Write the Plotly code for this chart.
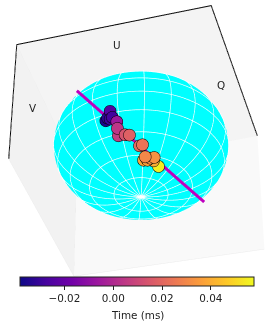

import numpy as np
import plotly.graph_objects as go

time_ms = [0.055, -0.036, -0.033, -0.03, -0.028, -0.025, -0.006, 0.006, 0.004, 0.014, 0.018, 0.021, 0.024, 0.038, 0.036, 0.04, 0.03, 0.032, 0.033]
q = [0.443, 0.986, 1.006, 1.002, 1.014, 1.052, 0.989, 0.885, 0.947, 0.888, 0.879, 0.761, 0.764, 0.608, 0.597, 0.569, 0.646, 0.617, 0.611]
u = [0.332, -0.142, -0.115, -0.086, -0.056, -0.072, -0.01, -0.021, -0.015, 0.06, 0.109, 0.195, 0.232, 0.2, 0.244, 0.308, 0.231, 0.282, 0.328]
v = [-0.951, -0.475, -0.45, -0.474, -0.462, -0.378, -0.535, -0.7, -0.62, -0.706, -0.718, -0.832, -0.825, -0.958, -0.959, -0.963, -0.94, -0.951, -0.945]
line_q = [0.815, 0.879, 0.957, 0.997, 0.989, 0.934, 0.831, 0.688, 0.509, 0.305, 0.086, -0.138, -0.355, -0.554, -0.707]
line_u = [-0.534, -0.497, -0.418, -0.317, -0.199, -0.071, 0.061, 0.189, 0.307, 0.41, 0.491, 0.548, 0.577, 0.577, 0.552]
line_v = [0.391, 0.289, 0.107, -0.092, -0.29, -0.475, -0.639, -0.771, -0.865, -0.917, -0.924, -0.885, -0.802, -0.68, -0.545]
tick_vals = [-0.02, 0.0, 0.02, 0.04]
tick_text = ["\u22120.02", "0.00", "0.02", "0.04"]

# box corners
A = (1.142, -1.158, 1.138)
B = (1.161, 1.165, 1.213)
C = (-1.145, 1.062, 1.042)
F = (-1.167, -1.095, 1.039)
E = (1.168, -1.246, -1.09)
G_D = (-1.109, -1.114, -1.105)
G = (-1.159, 1.141, -1.174)

RANGE = 1.4
SCALE = 1.208 * RANGE / 1.115
CMIN, CMAX = -0.0382, 0.0577
FONT = "DejaVu Sans"
INK = "#222222"
n = np.array([0.21377, -0.75485, -0.62009])
DIST = 2.0
center = np.array([-0.04503, -0.06147, -0.07600])
eye = center + np.array([-n[1], n[0], n[2]]) * DIST

th = np.linspace(0, np.pi, 60)
ph = np.linspace(0, 2 * np.pi, 120)
sx = np.outer(np.sin(th), np.cos(ph))
sy = np.outer(np.sin(th), np.sin(ph))
sz = np.outer(np.cos(th), np.ones_like(ph))

gx, gy, gz = [], [], []
RG = 1.004
for lat in np.radians(np.arange(18, 180, 18)):
    a = np.linspace(0, 2 * np.pi, 90)
    gx += list(RG * np.sin(lat) * np.cos(a)) + [None]
    gy += list(RG * np.sin(lat) * np.sin(a)) + [None]
    gz += list(RG * np.cos(lat) * np.ones_like(a)) + [None]
for lon in np.radians(np.arange(0, 360, 18)):
    a = np.linspace(0, np.pi, 50)
    gx += list(RG * np.sin(a) * np.cos(lon)) + [None]
    gy += list(RG * np.sin(a) * np.sin(lon)) + [None]
    gz += list(RG * np.cos(a)) + [None]

flat = dict(ambient=1, diffuse=0, specular=0, roughness=1, fresnel=0)
fig = go.Figure()


def pane(corners, color):
    xs, ys, zs = zip(*corners)
    fig.add_trace(go.Mesh3d(x=xs, y=ys, z=zs, i=[0, 0], j=[1, 2], k=[2, 3], color=color,
                            flatshading=True, lighting=flat, hoverinfo="skip"))


def path(segments, color, width):
    xs, ys, zs = [], [], []
    for seg in segments:
        for p in seg:
            xs.append(p[0]); ys.append(p[1]); zs.append(p[2])
        xs.append(None); ys.append(None); zs.append(None)
    fig.add_trace(go.Scatter3d(x=xs, y=ys, z=zs, mode="lines", line=dict(color=color, width=width), hoverinfo="skip"))


pane([A, B, C, F], "#f4f4f4")
pane([A, E, G_D, F], "#f2f2f2")
pane([F, C, G, G_D], "#f9f9f9")
path([[F, G_D], [E, G_D, G], [F, C], [F, A]], "#ebebeb", 1)
fig.add_trace(go.Surface(x=sx, y=sy, z=sz, colorscale=[[0, "#00ffff"], [1, "#00ffff"]], showscale=False,
                         lighting=flat, hoverinfo="skip"))
fig.add_trace(go.Scatter3d(x=gx, y=gy, z=gz, mode="lines", line=dict(color="white", width=1.4), hoverinfo="skip"))
path([[E, A, B, C]], "black", 2)
fig.add_trace(go.Scatter3d(x=line_q, y=line_u, z=line_v, mode="lines", line=dict(color="#bf00bf", width=6),
                           hoverinfo="skip"))
fig.add_trace(go.Scatter3d(x=q, y=u, z=v, mode="markers", hoverinfo="skip",
                           marker=dict(size=7, color=time_ms, colorscale="Plasma", cmin=CMIN, cmax=CMAX,
                                       line=dict(color="black", width=2.5), showscale=True,
                                       colorbar=dict(orientation="h", x=20 / 267, xanchor="left", len=233.5 / 267,
                                                     lenmode="fraction", y=1 - 277 / 322, yanchor="top", thickness=8.5,
                                                     xpad=0, ypad=0, outlinecolor=INK, outlinewidth=1,
                                                     ticks="outside", ticklen=3.5, tickwidth=0.8, tickcolor=INK,
                                                     tickvals=tick_vals, ticktext=tick_text,
                                                     tickfont=dict(family=FONT, size=10.4, color=INK)))))

ax = dict(visible=False, range=[-RANGE, RANGE])
fig.update_layout(
    width=267, height=322, margin=dict(l=0, r=0, t=0, b=0, autoexpand=False), showlegend=False, paper_bgcolor="white",
    scene=dict(xaxis=ax, yaxis=ax, zaxis=ax, aspectmode="manual",
               aspectratio=dict(x=SCALE, y=SCALE, z=0.75 * SCALE),
               bgcolor="white", domain=dict(x=[0, 1], y=[0, 1]),
               camera=dict(eye=dict(x=float(eye[0]), y=float(eye[1]), z=float(eye[2])),
                           center=dict(x=float(center[0]), y=float(center[1]), z=float(center[2])),
                           up=dict(x=0, y=0, z=1), projection=dict(type="orthographic"))),
    annotations=[dict(text=t, x=px / 267, y=1 - py / 322, xref="paper", yref="paper", showarrow=False,
                      xanchor="center", yanchor="middle",
                      font=dict(family=FONT, size=10.4, color=INK))
                 for t, px, py in [("U", 117, 45), ("Q", 221, 85), ("V", 33, 108), ("Time (ms)", 137, 315)]],
)
fig.write_html("out.html", config=dict(displayModeBar=False), post_script="document.body.style.margin='0';")
